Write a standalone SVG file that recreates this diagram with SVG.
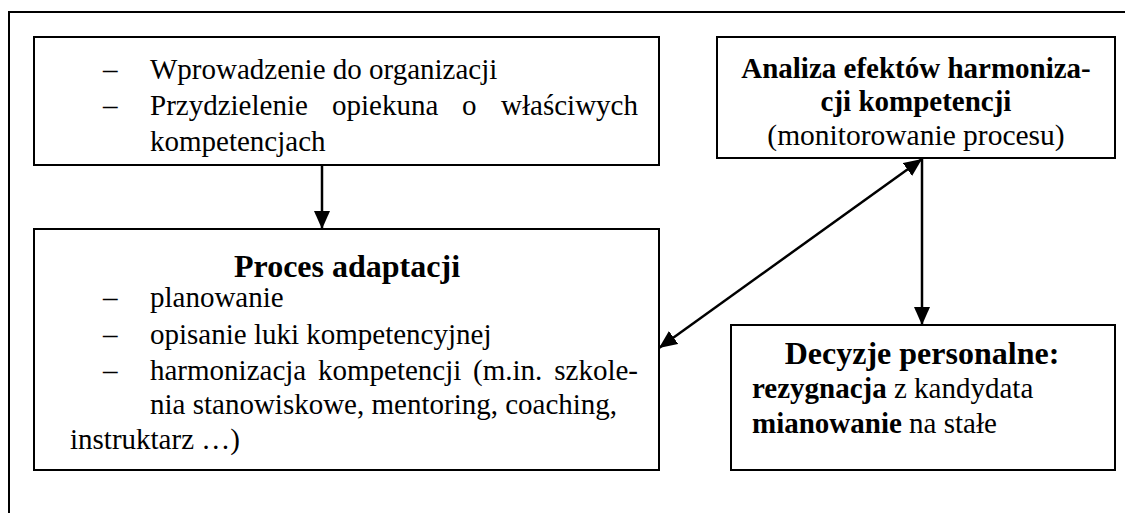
<svg xmlns="http://www.w3.org/2000/svg" width="1125" height="513" viewBox="0 0 1125 513">
  <style>
    .frame { fill: none; stroke: #000; stroke-width: 2; }
    .box { fill: #fff; stroke: #000; stroke-width: 2; }
    .link { fill: none; stroke: #000; stroke-width: 2.5; }
    text { font-family: 'Liberation Serif', Tinos, 'Times New Roman', 'DejaVu Serif', serif; font-size: 29px; fill: #000; }
    .b { font-weight: bold; }
    .title { font-weight: bold; font-size: 32px; }
    .mid { text-anchor: middle; }
    .end { text-anchor: end; }
  </style>
  <defs>
    <marker id="arrow" viewBox="0 0 18 16" refX="18" refY="8" markerWidth="18" markerHeight="16" markerUnits="userSpaceOnUse" orient="auto-start-reverse">
      <path d="M0,0 L18,8 L0,16 Z" fill="#000"/>
    </marker>
  </defs>

  <rect width="1125" height="513" fill="#fff"/>
  <!-- outer frame, running past the right and bottom edges -->
  <rect class="frame" x="9" y="12" width="1140" height="530"/>

  <g id="wprowadzenie">
    <rect class="box" x="34" y="37" width="625" height="128"/>
    <text x="103" y="79">–</text>
    <text x="150" y="79">Wprowadzenie do organizacji</text>
    <text x="103" y="115">–</text>
    <text x="150" y="115">Przydzielenie</text>
    <text x="332" y="115">opiekuna</text>
    <text x="462" y="115">o</text>
    <text class="end" x="638" y="115">właściwych</text>
    <text x="150" y="151">kompetencjach</text>
  </g>

  <g id="analiza">
    <rect class="box" x="717" y="37" width="398" height="121"/>
    <text class="b mid" x="916" y="78">Analiza efektów harmoniza-</text>
    <text class="b mid" x="916" y="111">cji kompetencji</text>
    <text class="mid" x="916" y="145" style="font-size:29.5px">(monitorowanie procesu)</text>
  </g>

  <g id="proces-adaptacji">
    <rect class="box" x="34" y="229" width="625" height="241"/>
    <text class="title mid" x="347" y="277">Proces adaptacji</text>
    <text x="103" y="307">–</text>
    <text x="150" y="307">planowanie</text>
    <text x="103" y="344">–</text>
    <text x="150" y="344">opisanie luki kompetencyjnej</text>
    <text x="103" y="380">–</text>
    <text x="150" y="380">harmonizacja</text>
    <text x="318" y="380">kompetencji</text>
    <text x="473" y="380">(m.in.</text>
    <text class="end" x="638" y="380">szkole-</text>
    <text x="150" y="414">nia stanowiskowe, mentoring, coaching,</text>
    <text x="70" y="449">instruktarz …)</text>
  </g>

  <g id="decyzje">
    <rect class="box" x="731" y="325" width="384" height="145"/>
    <text class="title mid" x="922" y="364">Decyzje personalne:</text>
    <text x="752" y="398"><tspan class="b">rezygnacja</tspan> z kandydata</text>
    <text x="752" y="433"><tspan class="b">mianowanie</tspan> na stałe</text>
  </g>

  <g id="connectors">
    <line class="link" x1="322" y1="165" x2="322" y2="229" marker-end="url(#arrow)"/>
    <line class="link" x1="659" y1="348" x2="922" y2="159" marker-start="url(#arrow)" marker-end="url(#arrow)"/>
    <line class="link" x1="922" y1="158" x2="922" y2="325" marker-end="url(#arrow)"/>
  </g>
</svg>
